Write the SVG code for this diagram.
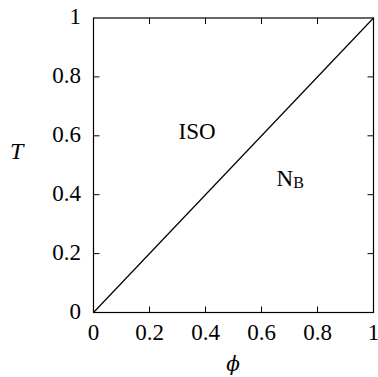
<svg xmlns="http://www.w3.org/2000/svg" width="378" height="377" viewBox="0 0 378 377">
<style>
.ax{fill:none;stroke:#000;stroke-width:1.2}
.tk{stroke:#000;stroke-width:1}
.yl{text-anchor:end}
.xl{text-anchor:middle}
</style>
<rect width="378" height="377" fill="#fff"/>
<g id="axes">
<rect class="ax" x="93.5" y="18" width="280" height="294.5"/>
<g class="tk">
<path d="M93.5 253.6h6M93.5 194.7h6M93.5 135.8h6M93.5 76.9h6M373.5 253.6h-6M373.5 194.7h-6M373.5 135.8h-6M373.5 76.9h-6"/>
<path d="M149.5 312.5v-6M205.5 312.5v-6M261.5 312.5v-6M317.5 312.5v-6M149.5 18v6M205.5 18v6M261.5 18v6M317.5 18v6"/>
</g>
</g>
<g id="yticks">
<text class="yl" x="81" y="318.5" font-family="Liberation Serif" font-size="23">0</text>
<text class="yl" x="81" y="259.6" font-family="Liberation Serif" font-size="23">0.2</text>
<text class="yl" x="81" y="200.7" font-family="Liberation Serif" font-size="23">0.4</text>
<text class="yl" x="81" y="141.8" font-family="Liberation Serif" font-size="23">0.6</text>
<text class="yl" x="81" y="82.9" font-family="Liberation Serif" font-size="23">0.8</text>
<text class="yl" x="81" y="24" font-family="Liberation Serif" font-size="23">1</text>
</g>
<g id="xticks">
<text class="xl" x="93.5" y="340" font-family="Liberation Serif" font-size="23">0</text>
<text class="xl" x="149.5" y="340" font-family="Liberation Serif" font-size="23">0.2</text>
<text class="xl" x="205.5" y="340" font-family="Liberation Serif" font-size="23">0.4</text>
<text class="xl" x="261.5" y="340" font-family="Liberation Serif" font-size="23">0.6</text>
<text class="xl" x="317.5" y="340" font-family="Liberation Serif" font-size="23">0.8</text>
<text class="xl" x="373.5" y="340" font-family="Liberation Serif" font-size="23">1</text>
</g>
<g id="ylabel"><text x="10" y="159" font-family="Liberation Serif" font-size="24" font-style="italic">T</text></g>
<g id="xlabel"><text class="xl" x="233" y="371" font-family="DejaVu Serif" font-size="20" font-style="italic">ϕ</text></g>
<g id="connectors"><path d="M93.5 312.5L373.5 18" fill="none" stroke="#000" stroke-width="1.2"/></g>
<g id="iso"><text x="178.5" y="139" font-family="Liberation Serif" font-size="23">ISO</text></g>
<g id="nb"><text x="276.5" y="185.5" font-family="Liberation Serif" font-size="23">N<tspan font-size="16" dy="2">B</tspan></text></g>
</svg>
